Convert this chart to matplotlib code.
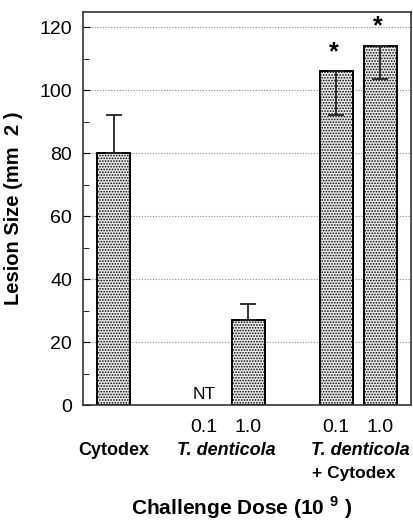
import matplotlib
matplotlib.use("Agg")
import matplotlib.pyplot as plt
import numpy as np

plt.rcParams['font.family'] = ['Liberation Sans', 'DejaVu Sans']
plt.rcParams['mathtext.fontset'] = 'custom'
plt.rcParams['mathtext.rm'] = 'Liberation Sans'
plt.rcParams['mathtext.bf'] = 'Liberation Sans:bold'
plt.rcParams['hatch.color'] = '#a8a8a8'
plt.rcParams['hatch.linewidth'] = 0.8

# data
positions = [0.7, 2.75, 3.75, 5.75, 6.75]
values = [80, 0, 27, 106, 114]
err_up = [12, 0, 5, 0, 0]
err_down = [0, 0, 0, 14, 10.5]
dose_labels = ["", "0.1", "1.0", "0.1", "1.0"]
has_bar = [True, False, True, True, True]
stars = [False, False, False, True, True]
yticks = [0, 20, 40, 60, 80, 100, 120]

fig = plt.figure(figsize=(4.13, 5.21), dpi=100)
ax = fig.add_axes([83/413, 1-405/521, 328/413, 393/521])

ax.set_xlim(0, 7.45)
ax.set_ylim(0, 124.8)

for y in yticks[1:]:
    ax.axhline(y, color='#888888', linestyle=(0, (1, 1.5)), linewidth=0.8, zorder=0)

for p, v, hb in zip(positions, values, has_bar):
    if hb:
        ax.bar(p, v, width=0.75, facecolor='#ebebeb', edgecolor='black',
               linewidth=1.2, hatch='......', zorder=2)
        ax.bar(p, v, width=0.75, facecolor='none', edgecolor='black',
               linewidth=1.2, zorder=2.5)

for p, v, eu, ed in zip(positions, values, err_up, err_down):
    if eu > 0 or ed > 0:
        ax.errorbar(p, v, yerr=[[ed], [eu]], fmt='none', ecolor='#222222',
                    elinewidth=1.3, capsize=6, capthick=1.3, zorder=3)

for p, v, s, eu in zip(positions, values, stars, err_up):
    if s:
        ax.text(p - 0.05, v + 2.3, "*", ha='center', va='bottom', fontsize=18,
                fontweight='bold')

ax.text(positions[1], 0.8, "NT", ha='center', va='bottom', fontsize=12.5)

ax.set_yticks(yticks)
ax.set_yticks(np.arange(10, 125, 20), minor=True)
ax.tick_params(axis='y', which='major', direction='in', length=5, labelsize=14, pad=8)
ax.tick_params(axis='y', which='minor', direction='in', length=4)
ax.set_xticks(positions)
ax.set_xticklabels(dose_labels, fontsize=14)
ax.tick_params(axis='x', length=0, pad=10)

for sp in ax.spines.values():
    sp.set_linewidth(1.2)
    sp.set_color('#333333')

# group labels
tr = ax.get_xaxis_transform()
ax.text(positions[0], -0.093, "Cytodex", transform=tr, ha='center', va='top',
        fontsize=13, fontweight='bold')
g2 = (positions[1] + positions[2]) / 2
ax.text(g2, -0.093, "T. denticola", transform=tr, ha='center', va='top',
        fontsize=13, fontweight='bold', style='italic')
g3 = (positions[3] + positions[4]) / 2
ax.text(g3 + 0.05, -0.093, "T. denticola", transform=tr, ha='center', va='top',
        fontsize=13, fontweight='bold', style='italic', clip_on=False)
ax.text(g3 - 0.1, -0.155, "+ Cytodex", transform=tr, ha='center', va='top',
        fontsize=12.5, fontweight='bold')

ax.set_ylabel("Lesion Size (mm  2 )", fontsize=14.5, fontweight='bold', labelpad=12)
fig.text(242/413, 1-508/521, r"Challenge Dose (10 $^{\mathbf{9}}$ )", ha='center', va='center',
         fontsize=15, fontweight='bold')

fig.savefig("out.png", dpi=100)
